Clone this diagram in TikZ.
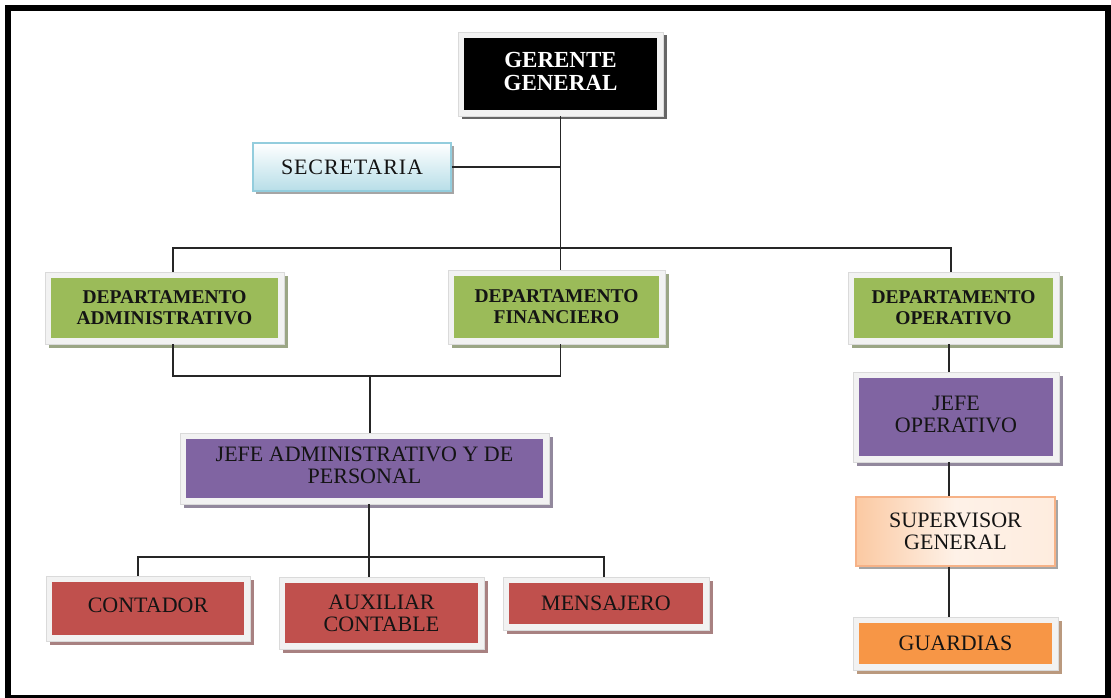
\documentclass[tikz,border=0pt]{standalone}
\usepackage{fontspec}
\setmainfont{Liberation Serif}
\usetikzlibrary{shadows,calc}

\definecolor{frameg}{HTML}{F2F2F2}
\definecolor{verde}{HTML}{9BBB59}
\definecolor{morado}{HTML}{8064A2}
\definecolor{rojo}{HTML}{C0504D}
\definecolor{naranja}{HTML}{F79646}
\definecolor{celeste}{HTML}{B7DEE8}
\definecolor{celesteb}{HTML}{93CDDD}
\definecolor{durazno}{HTML}{FBC9A2}
\definecolor{duraznob}{HTML}{F6B287}
\definecolor{linea}{HTML}{262626}
\definecolor{txt}{HTML}{141414}

% raise a (possibly multi-line) label inside its box
\newcommand{\subir}[2]{\raisebox{#1}{\begin{tabular}{@{}c@{}}#2\end{tabular}}}

\begin{document}
\begin{tikzpicture}[x=1pt,y=-1pt,
  framed/.style={rectangle, inner sep=0pt, align=center,
    fill=frameg, draw=frameg!90!black, line width=0.3pt,
    drop shadow={shadow xshift=3.5pt, shadow yshift=-3.5pt, fill=#1!40!gray, opacity=0.85},
    path picture={\fill[#1] ([shift={(6pt,6pt)}]path picture bounding box.south west)
      rectangle ([shift={(-6pt,-6pt)}]path picture bounding box.north east);}},
  boldtxt/.style={font=\fontsize{19.5}{21}\selectfont\bfseries, text=txt},
  plaintxt/.style={font=\fontsize{22}{22}\selectfont, text=txt},
  conn/.style={draw=linea, line width=1.3pt},
  softshadow/.style={drop shadow={shadow xshift=3pt, shadow yshift=-3pt, fill=gray, opacity=0.7}}
]
\useasboundingbox (0,0) rectangle (1111,698);
\fill[white] (0,0) rectangle (1111,698);
\draw[line width=6pt] (8,8) rectangle (1108,697.5);

% top level
\node[framed=black, minimum width=205pt, minimum height=84pt,
      font=\fontsize{23}{23}\selectfont\bfseries, text=white] (ger) at (560.5,74)
      {\subir{4pt}{GERENTE\\GENERAL}};

\node[rectangle, draw=celesteb, line width=1.2pt, top color=white, bottom color=celeste,
      softshadow, minimum width=198pt, minimum height=48pt, plaintxt,
      font=\fontsize{22}{22}\selectfont\addfontfeature{LetterSpace=4}] (sec) at (352,167) {SECRETARIA};

% departments
\node[framed=verde, boldtxt, minimum width=239pt, minimum height=72pt] (dadm) at (164.5,308)
      {DEPARTAMENTO\\ADMINISTRATIVO};
\node[framed=verde, boldtxt, minimum width=217pt, minimum height=74pt] (dfin) at (556.5,307)
      {DEPARTAMENTO\\FINANCIERO};
\node[framed=verde, boldtxt, minimum width=211pt, minimum height=72pt] (dop) at (953.5,308)
      {DEPARTAMENTO\\OPERATIVO};

% administrative branch
\node[framed=morado, plaintxt, minimum width=369pt, minimum height=71pt] (jadm) at (364.5,468.5)
      {\subir{2pt}{JEFE ADMINISTRATIVO Y DE\\PERSONAL}};
\node[framed=rojo, plaintxt, minimum width=204pt, minimum height=65pt] (cont) at (148,608.5)
      {\subir{6pt}{CONTADOR}};
\node[framed=rojo, plaintxt, minimum width=205pt, minimum height=72pt] (aux) at (381.5,613)
      {AUXILIAR\\CONTABLE};
\node[framed=rojo, plaintxt, minimum width=206pt, minimum height=53pt] (mens) at (606,603.5)
      {MENSAJERO};

% operative branch
\node[framed=morado, plaintxt, minimum width=206pt, minimum height=90pt] (jop) at (956,417)
      {\subir{7pt}{JEFE\\OPERATIVO}};
\node[rectangle, draw=duraznob, line width=1.2pt, softshadow,
      left color=durazno, right color=durazno!35, middle color=durazno!25,
      plaintxt, align=center, minimum width=199pt, minimum height=69pt] (sup) at (955.5,531.5)
      {SUPERVISOR\\GENERAL};
\node[framed=naranja, plaintxt, minimum width=205pt, minimum height=53pt] (guard) at (955.5,643.5)
      {GUARDIAS};

% connectors
\coordinate (bL) at (173,248);
\coordinate (bR) at (951,248);
\coordinate (cL) at (173,376);
\coordinate (cR) at (560.5,376);
\coordinate (cM) at (370,376);
\coordinate (dL) at (138,557);
\coordinate (dM) at (369,557);
\coordinate (dR) at (604,557);
\coordinate (rX) at (949,0);

\draw[conn] (ger.south) -- (ger.south |- dfin.north);
\draw[conn] (sec.east) -- (sec.east -| ger.south);
\draw[conn] (dadm.north -| bL) -- (bL) -- (bR) -- (dop.north -| bR);

\draw[conn] (dadm.south -| cL) -- (cL) -- (cR) -- (dfin.south -| cR);
\draw[conn] (cM) -- (jadm.north -| cM);

\draw[conn] (jadm.south -| dM) -- (dM);
\draw[conn] (cont.north -| dL) -- (dL) -- (dR) -- (mens.north -| dR);
\draw[conn] (dM) -- (aux.north -| dM);

\draw[conn] (dop.south -| rX) -- (jop.north -| rX);
\draw[conn] (jop.south -| rX) -- (sup.north -| rX);
\draw[conn] (sup.south -| rX) -- (guard.north -| rX);
\end{tikzpicture}
\end{document}
